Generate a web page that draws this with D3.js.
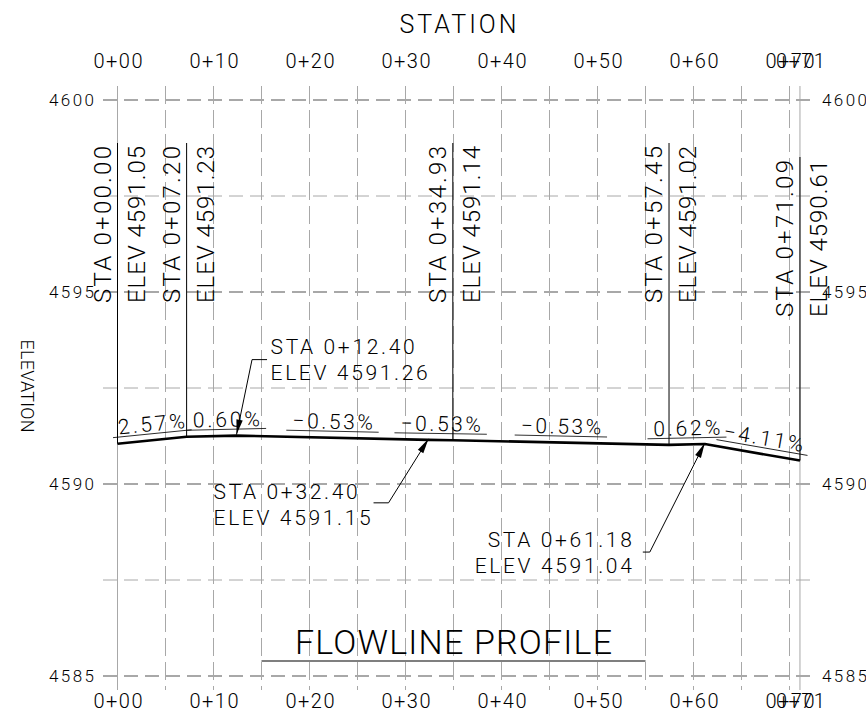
<!DOCTYPE html>
<html>
<head>
<meta charset="utf-8">
<script src="https://cdn.jsdelivr.net/npm/d3@7"></script>
<style>
  html, body { margin: 0; padding: 0; background: #fff; }
  svg { display: block; }
  text { font-family: Roboto, "Liberation Sans", sans-serif; font-weight: 300; fill: #000; }
</style>
</head>
<body>
<svg id="chart" width="866" height="714"></svg>
<script>
// Flowline profile: stations (ft along the run) and flowline elevations (ft)
const stations   = [0, 7.20, 12.40, 32.40, 34.93, 57.45, 61.18, 71.09];
const elevations = [4591.05, 4591.23, 4591.26, 4591.15, 4591.14, 4591.02, 4591.04, 4590.61];
// Grade of each segment between consecutive points (%)
const grades = [2.57, 0.60, -0.53, -0.53, -0.53, 0.62, -4.11];
// Points annotated with stacked vertical STA / ELEV text
const stackedLabelIdx = [0, 1, 4, 5, 7];
// Points annotated with arrow callouts
const calloutIdx = [2, 3, 6];
// Axis ticks and grid
const stationTicks = [0, 10, 20, 30, 40, 50, 60, 70, 71.09];
const stationGrid  = [0, 5, 10, 15, 20, 25, 30, 35, 40, 45, 50, 55, 60, 65, 70, 71.09];
const elevTicks = [4585, 4590, 4595, 4600];
const elevGrid  = [4585, 4587.5, 4590, 4592.5, 4595, 4597.5, 4600];
const titleRange = [15, 55];

const svg = d3.select("#chart");
const x = d3.scaleLinear().domain([0, 70]).range([117.5, 789.5]);
const y = d3.scaleLinear().domain([4585, 4600]).range([676, 100]);

const gridColor = "#a8a8a8";
const fmtTick = s => `${Math.floor(s / 100)}+${String(Math.round(s % 100)).padStart(2, "0")}`;
const fmtSta = s => `STA ${Math.floor(s / 100)}+${(s % 100).toFixed(2).padStart(5, "0")}`;
const fmtElev = e => `ELEV ${e.toFixed(2)}`;
const fmtGrade = g => (g < 0 ? "\u2212" : "") + Math.abs(g).toFixed(2) + "%";

// ---- grid ----
const grid = svg.append("g");
grid.selectAll("line.h").data(elevGrid).join("line")
  .attr("x1", 103).attr("x2", 812)
  .attr("y1", d => y(d)).attr("y2", d => y(d))
  .attr("stroke", gridColor)
  .attr("stroke-width", d => d % 5 === 0 ? 1.8 : 1)
  .attr("stroke-dasharray", "14,7");
grid.selectAll("line.v").data(stationGrid).join("line")
  .attr("x1", d => x(d)).attr("x2", d => x(d))
  .attr("y1", 86).attr("y2", 690)
  .attr("stroke", gridColor)
  .attr("stroke-width", 1)
  .attr("stroke-dasharray", (d, i) => (i === 0 || i === stationGrid.length - 1) ? null : "18,6");

// ---- axes ----
function styleAxis(g, size, len) {
  g.attr("font-family", null).attr("font-size", size);
  g.select(".domain").remove();
  g.selectAll("text").attr("textLength", len).attr("lengthAdjust", "spacing");
}
svg.append("g").attr("transform", "translate(0,68)")
  .call(d3.axisTop(x).tickValues(stationTicks).tickFormat(fmtTick).tickSize(0).tickPadding(0))
  .call(g => styleAxis(g, 20, 49));
svg.append("g").attr("transform", "translate(0,694)")
  .call(d3.axisBottom(x).tickValues(stationTicks).tickFormat(fmtTick).tickSize(0).tickPadding(0))
  .call(g => styleAxis(g, 20, 49));
svg.append("g").attr("transform", "translate(94,0)")
  .call(d3.axisLeft(y).tickValues(elevTicks).tickFormat(d3.format("d")).tickSize(0).tickPadding(0))
  .call(g => styleAxis(g, 17, 45));
svg.append("g").attr("transform", "translate(822,0)")
  .call(d3.axisRight(y).tickValues(elevTicks).tickFormat(d3.format("d")).tickSize(0).tickPadding(0))
  .call(g => styleAxis(g, 17, 45));

svg.append("text").attr("x", 458).attr("y", 33).attr("text-anchor", "middle")
  .attr("font-size", 25).attr("textLength", 117).attr("lengthAdjust", "spacing").text("STATION");
svg.append("text").attr("transform", "translate(21,386) rotate(90)").attr("text-anchor", "middle")
  .attr("font-size", 18).attr("textLength", 93).attr("lengthAdjust", "spacing").text("ELEVATION");

// ---- profile ----
const pts = stations.map((s, i) => [s, elevations[i]]);
const line = d3.line().x(d => x(d[0])).y(d => y(d[1]));
svg.append("path").attr("d", line(pts))
  .attr("fill", "none").attr("stroke", "#000").attr("stroke-width", 2.6)
  .attr("stroke-linejoin", "round");

// ---- grade labels along each segment ----
const pxPerSta = x(1) - x(0), pxPerFt = y(0) - y(1);
const gradeNudge = { 1: 15, 6: 10 };   // px shift along the segment for crowded labels
const gradeG = svg.append("g");
grades.forEach((g, i) => {
  const sm = (stations[i] + stations[i + 1]) / 2;
  const em = (elevations[i] + elevations[i + 1]) / 2;
  const slope = (elevations[i + 1] - elevations[i]) / (stations[i + 1] - stations[i]) * pxPerFt / pxPerSta;
  const ang = -Math.atan(slope) * 180 / Math.PI;
  const nx = gradeNudge[i] || 0;
  const t = fmtGrade(g);
  const w = t.length * 13.4;
  const lg = gradeG.append("g")
    .attr("transform", `translate(${x(sm) + nx},${y(em) - 9 - nx * slope}) rotate(${ang})`);
  lg.append("text").attr("text-anchor", "middle").attr("font-size", 21)
    .attr("textLength", w).attr("lengthAdjust", "spacing").text(t);
  lg.append("line").attr("x1", -w / 2 - 6).attr("x2", w / 2 + 6).attr("y1", 2.5).attr("y2", 2.5)
    .attr("stroke", "#000").attr("stroke-width", 0.8);
});

// ---- stacked vertical STA / ELEV annotations ----
const stackG = svg.append("g");
stackedLabelIdx.forEach((idx, k) => {
  const xs = x(stations[idx]);
  const bottom = k === stackedLabelIdx.length - 1 ? 317 : 303;
  stackG.append("line").attr("x1", xs).attr("x2", xs)
    .attr("y1", bottom - 160).attr("y2", y(elevations[idx]))
    .attr("stroke", "#000").attr("stroke-width", 1);
  stackG.append("text").attr("transform", `translate(${xs - 7},${bottom}) rotate(-90)`)
    .attr("font-size", 24).attr("textLength", 157).attr("lengthAdjust", "spacing")
    .text(fmtSta(stations[idx]));
  stackG.append("text").attr("transform", `translate(${xs + 27},${bottom}) rotate(-90)`)
    .attr("font-size", 24).attr("textLength", 157).attr("lengthAdjust", "spacing")
    .text(fmtElev(elevations[idx]));
});

// ---- arrow callouts ----
const calloutLayout = [
  { elbow: [15.5, -75], tail: 15,  tx: 34,   ty: -81, anchor: "start" },
  { elbow: [-40, 64],   tail: -15, tx: -215, ty: 60,  anchor: "start" },
  { elbow: [-55, 109],  tail: -7,  tx: -73,  ty: 104, anchor: "end" }
];
const callG = svg.append("g");
calloutIdx.forEach((idx, k) => {
  const L = calloutLayout[k];
  const tip = [x(stations[idx]), y(elevations[idx]) - 1];
  const elbow = [tip[0] + L.elbow[0], tip[1] + L.elbow[1]];
  callG.append("polyline")
    .attr("points", [[elbow[0] + L.tail, elbow[1]], elbow, tip].map(p => p.join(",")).join(" "))
    .attr("fill", "none").attr("stroke", "#000").attr("stroke-width", 1);
  const a = Math.atan2(elbow[1] - tip[1], elbow[0] - tip[0]);
  const hl = 15, hw = 3.2;
  const bx = tip[0] + hl * Math.cos(a), by = tip[1] + hl * Math.sin(a);
  const head = [tip,
    [bx - hw * Math.sin(a), by + hw * Math.cos(a)],
    [bx + hw * Math.sin(a), by - hw * Math.cos(a)]];
  callG.append("polygon").attr("points", head.map(p => p.join(",")).join(" ")).attr("fill", "#000");
  const lines = [fmtSta(stations[idx]), fmtElev(elevations[idx])];
  lines.forEach((t, j) => {
    callG.append("text").attr("x", tip[0] + L.tx).attr("y", tip[1] + L.ty + j * 26)
      .attr("text-anchor", L.anchor).attr("font-size", 21)
      .attr("textLength", t.length * 13.1).attr("lengthAdjust", "spacing").text(t);
  });
});

// ---- drawing title ----
svg.append("text").attr("x", (x(titleRange[0]) + x(titleRange[1])) / 2).attr("y", 654)
  .attr("text-anchor", "middle").attr("font-size", 34)
  .attr("textLength", 317).attr("lengthAdjust", "spacing").text("FLOWLINE PROFILE");
svg.append("line").attr("x1", x(titleRange[0])).attr("x2", x(titleRange[1]))
  .attr("y1", 661).attr("y2", 661).attr("stroke", "#000").attr("stroke-width", 1.2);
</script>
</body>
</html>
